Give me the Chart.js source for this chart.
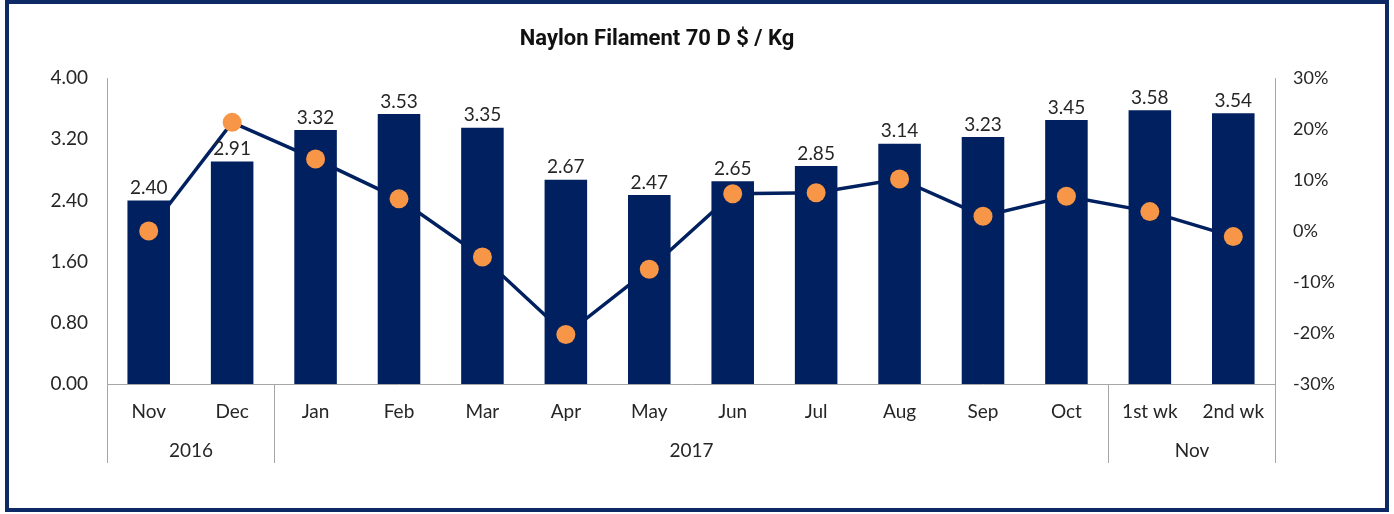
<!DOCTYPE html>
<html>
<head>
<meta charset="UTF-8">
<title>Naylon Filament 70 D $ / Kg</title>
<script src="https://cdn.jsdelivr.net/npm/chart.js"></script>
<style>
body{margin:0;background:white;}
.wrap{position:relative;width:1394px;height:514px;}
.frame{position:absolute;left:5px;top:0;width:1384px;height:512px;box-sizing:border-box;border:4px solid #0e2a66;pointer-events:none;}
canvas{position:absolute;left:0;top:0;}
</style>
</head>
<body>
<div class="wrap">
<canvas id="c" width="1394" height="514"></canvas>
<div class="frame"></div>
</div>
<script>
// data
const labels = ["Nov","Dec","Jan","Feb","Mar","Apr","May","Jun","Jul","Aug","Sep","Oct","1st wk","2nd wk"];
const price  = [2.40, 2.91, 3.32, 3.53, 3.35, 2.67, 2.47, 2.65, 2.85, 3.14, 3.23, 3.45, 3.58, 3.54];
const change = [0, 21.3, 14.1, 6.3, -5.1, -20.3, -7.5, 7.3, 7.5, 10.2, 2.9, 6.8, 3.8, -1.1];
const groups = ["2016","2017","Nov"];
const groupSize = [2,10,2];
const title = "Naylon Filament 70 D $ / Kg";

const navy = "#002060";
const orange = "#F79646";
const txt = "#262626";
const axisGrey = "#a6a6a6";
const font = "Lato";

// title, bar value labels and the two-level category axis
const extras = {
  id:'extras',
  afterDatasetsDraw(chart){
    const ctx = chart.ctx;
    ctx.save();

    // value labels above bars
    const bars = chart.getDatasetMeta(1);
    ctx.font = "19px " + font;
    ctx.fillStyle = txt;
    ctx.textAlign = "center";
    ctx.textBaseline = "bottom";
    bars.data.forEach((b,i)=>ctx.fillText(price[i].toFixed(2), b.x, b.y-3));

    // title
    ctx.font = "bold 22px 'Liberation Sans Narrow', Roboto";
    ctx.fillStyle = "#111";
    ctx.textBaseline = "middle";
    ctx.fillText(title, 657, 39);

    // group separators + labels
    const x = chart.scales.x;
    const half = (x.getPixelForValue(1) - x.getPixelForValue(0)) / 2;
    const top = chart.chartArea.bottom;
    ctx.strokeStyle = axisGrey;
    ctx.lineWidth = 1;
    ctx.font = "19px " + font;
    ctx.fillStyle = txt;
    let idx = 0;
    const edge = i => Math.round(x.getPixelForValue(i) - half) + 0.5;
    ctx.beginPath();
    ctx.moveTo(edge(0), top); ctx.lineTo(edge(0), 463);
    groups.forEach((g,k)=>{
      const a = edge(idx);
      idx += groupSize[k];
      const b = edge(idx);
      ctx.moveTo(b, top); ctx.lineTo(b, 463);
      ctx.fillText(g, (a+b)/2, 451);
    });
    ctx.stroke();
    ctx.restore();
  }
};

new Chart(document.getElementById("c"), {
  type:'bar',
  data:{
    labels:labels,
    datasets:[
      {
        type:'line',
        label:'change',
        data:change,
        yAxisID:'y1',
        borderColor:navy,
        borderWidth:3.5,
        pointRadius:9.5,
        pointBackgroundColor:orange,
        pointBorderColor:orange,
        pointBorderWidth:0,
        tension:0,
        order:0
      },
      {
        type:'bar',
        label:'price',
        data:price,
        yAxisID:'y',
        backgroundColor:navy,
        barPercentage:0.51,
        categoryPercentage:1,
        order:1
      }
    ]
  },
  options:{
    responsive:false,
    animation:false,
    layout:{padding:{top:78,left:0,right:0,bottom:0}},
    plugins:{
      legend:{display:false},
      title:{display:false},
      tooltip:{enabled:false}
    },
    scales:{
      x:{
        grid:{display:false, drawTicks:false},
        border:{display:true, color:axisGrey, width:1},
        ticks:{color:txt, font:{family:font, size:19}, padding:16, maxRotation:0, autoSkip:false},
        afterFit(s){ s.height = 130; }
      },
      y:{
        position:'left',
        min:0, max:4,
        grid:{display:false, drawTicks:false},
        border:{display:true, color:axisGrey, width:1},
        ticks:{stepSize:0.8, color:txt, font:{family:font, size:19}, padding:19,
          callback:v=>Number(v).toFixed(2)},
        afterFit(s){ s.width = 107; }
      },
      y1:{
        position:'right',
        min:-30, max:30,
        grid:{display:false, drawTicks:false},
        border:{display:true, color:axisGrey, width:1},
        ticks:{stepSize:10, color:txt, font:{family:font, size:18}, padding:18,
          callback:v=>Math.round(v)+"%"},
        afterFit(s){ s.width = 119; }
      }
    }
  },
  plugins:[extras]
});
</script>
</body>
</html>
